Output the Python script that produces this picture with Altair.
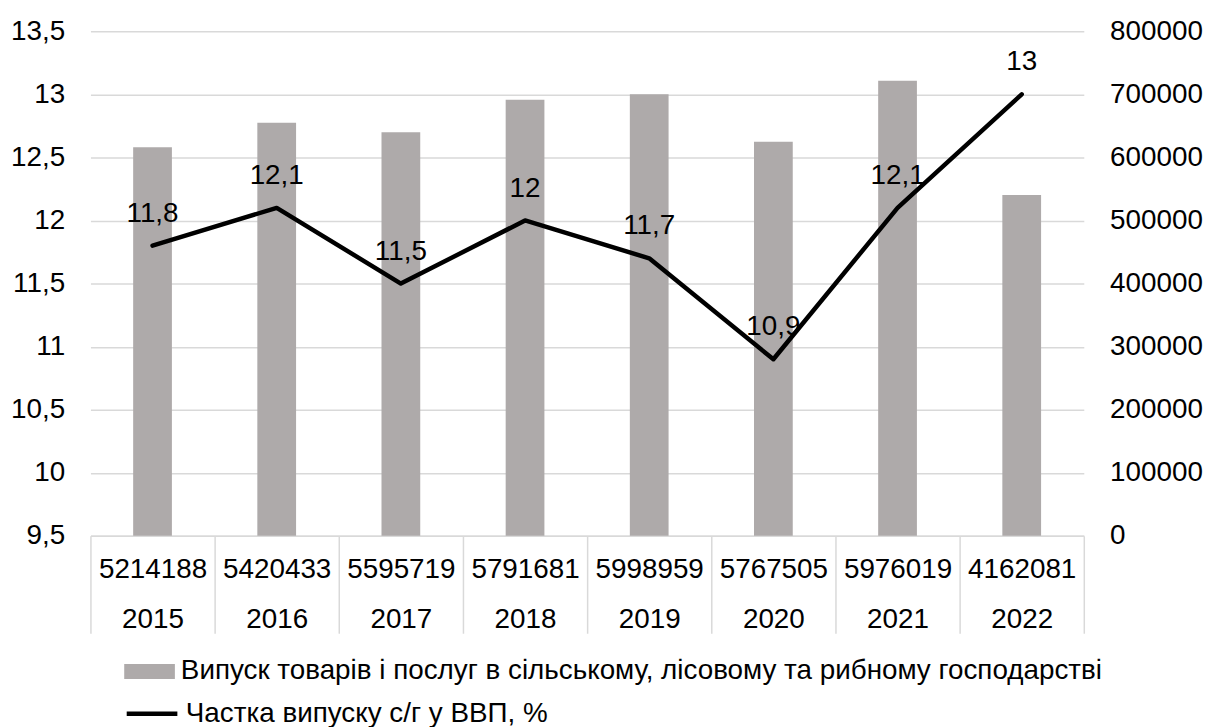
import altair as alt
import pandas as pd

years = ["2015", "2016", "2017", "2018", "2019", "2020", "2021", "2022"]
gdp = ["5214188", "5420433", "5595719", "5791681", "5998959", "5767505", "5976019", "4162081"]
output = [616000, 655000, 640000, 691500, 700000, 625000, 721500, 540500]
share = [11.8, 12.1, 11.5, 12.0, 11.7, 10.9, 12.1, 13.0]

bar_name = "Випуск товарів і послуг в сільському, лісовому та рибному господарстві"
line_name = "Частка випуску с/г у ВВП, %"

df = pd.DataFrame({
    "cat": [g + "|" + y for g, y in zip(gdp, years)],
    "output": output,
    "share": share,
})

FONT = "Liberation Sans"
FS = 28

x_enc = alt.X(
    "cat:N",
    sort=None,
    title=None,
    scale=alt.Scale(paddingInner=0, paddingOuter=0),
    axis=alt.Axis(
        labelExpr="split(datum.label, '|')",
        labelAngle=0,
        labelFont=FONT,
        labelFontSize=FS,
        labelColor="#000000",
        labelLineHeight=50,
        labelBaseline="middle",
        labelPadding=-64,
        tickBand="extent",
        tickSize=98,
        tickColor="#d9d9d9",
        tickWidth=1.5,
        domainColor="#d9d9d9",
        domainWidth=1.5,
        grid=False,
    ),
)

share_y = alt.Y(
    "share:Q",
    title=None,
    scale=alt.Scale(domain=[9.5, 13.5], nice=False, zero=False),
    axis=alt.Axis(
        orient="left",
        values=[9.5, 10, 10.5, 11, 11.5, 12, 12.5, 13, 13.5],
        labelExpr="replace(toString(datum.value), '.', ',')",
        grid=True,
        gridColor="#d9d9d9",
        gridWidth=1.5,
        domain=False,
        ticks=False,
        labelFont=FONT,
        labelFontSize=FS,
        labelColor="#000000",
        labelPadding=26,
    ),
)

base = alt.Chart(df)

bars = base.mark_bar(width=alt.RelativeBandSize(0.312)).encode(
    x=x_enc,
    y=alt.Y(
        "output:Q",
        title=None,
        scale=alt.Scale(domain=[0, 800000], nice=False),
        axis=alt.Axis(
            orient="right",
            values=[0, 100000, 200000, 300000, 400000, 500000, 600000, 700000, 800000],
            format="d",
            grid=False,
            domain=False,
            ticks=False,
            labelFont=FONT,
            labelFontSize=FS,
            labelColor="#000000",
            labelPadding=26,
        ),
    ),
    color=alt.Color(
        "datum_bar:N",
        scale=alt.Scale(domain=[bar_name], range=["#aeaaaa"]),
        legend=alt.Legend(
            orient="none",
            legendX=34,
            legendY=619,
            title=None,
            padding=0,
            symbolType="M-1,-0.294H1V0.294H-1Z",
            symbolSize=2601,
            symbolStrokeWidth=0,
            labelFont=FONT,
            labelFontSize=FS,
            labelColor="#000000",
            labelOffset=6,
            labelLimit=1200,
        ),
    ),
).transform_calculate(datum_bar="'" + bar_name + "'")

line = base.mark_line(strokeWidth=4.5, strokeJoin="round", strokeCap="round").encode(
    x=x_enc,
    y=share_y,
    stroke=alt.Stroke(
        "datum_line:N",
        scale=alt.Scale(domain=[line_name], range=["#000000"]),
        legend=alt.Legend(
            orient="none",
            legendX=34,
            legendY=659,
            title=None,
            padding=0,
            symbolType="stroke",
            symbolSize=2601,
            symbolStrokeWidth=4.5,
            labelFont=FONT,
            labelFontSize=FS,
            labelColor="#000000",
            labelOffset=6,
            labelLimit=1200,
        ),
    ),
).transform_calculate(datum_line="'" + line_name + "'")

labels = base.mark_text(
    dy=-32, baseline="middle", align="center", font=FONT, fontSize=FS, color="#000000"
).encode(
    x=x_enc,
    y=share_y,
    text="lbl:N",
).transform_calculate(lbl="replace(toString(datum.share), '.', ',')")

chart = (
    alt.layer(bars, line + labels)
    .resolve_scale(y="independent", color="independent", stroke="independent")
    .properties(
        width=1000,
        height=508,
        autosize=alt.AutoSizeParams(type="none"),
        padding={"left": 83, "top": 21, "right": 120, "bottom": 190},
        background="white",
    )
    .configure_view(stroke=None)
)

chart.save("out.html", embed_options={"renderer": "svg", "actions": False})
